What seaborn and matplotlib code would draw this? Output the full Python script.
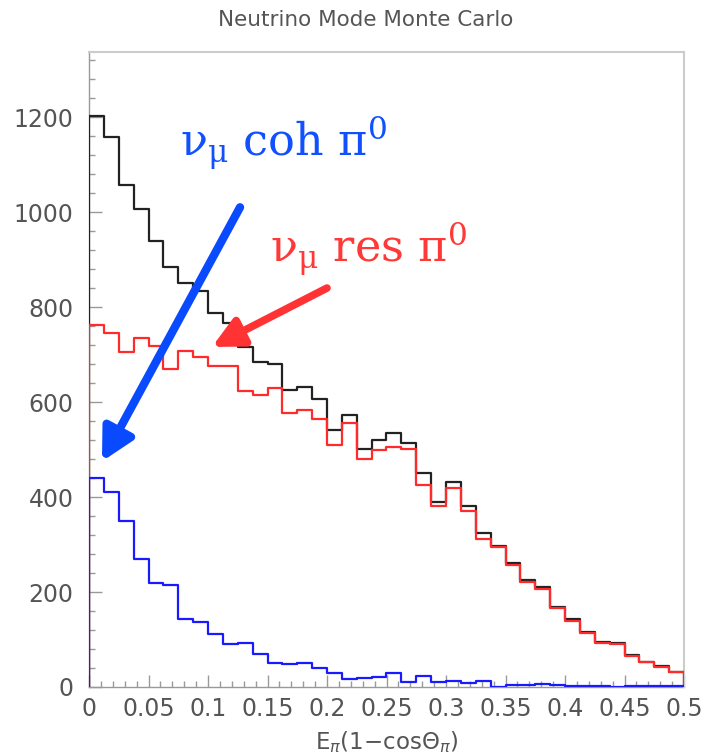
import numpy as np
import pandas as pd
import matplotlib
matplotlib.use("Agg")
import matplotlib.pyplot as plt
from matplotlib.ticker import MultipleLocator
import seaborn as sns

# ---- data (40 bins, width 0.0125, 0 .. 0.5) ----
bin_width = 0.0125
x_min, x_max = 0.0, 0.5

total_counts = [1203, 1159, 1057, 1006, 940, 885, 851, 834, 788, 767,
                715, 685, 681, 625, 632, 606, 541, 573, 502, 521,
                534, 513, 450, 390, 432, 381, 325, 297, 262, 225,
                210, 169, 143, 116, 95, 92, 67, 53, 44, 32]
res_counts = [762, 746, 706, 735, 719, 669, 707, 695, 676, 676,
              623, 615, 630, 576, 583, 564, 509, 555, 481, 500,
              506, 502, 425, 381, 420, 371, 311, 295, 257, 222,
              206, 166, 140, 114, 92, 90, 65, 52, 43, 31]
coh_counts = [441, 411, 350, 269, 220, 215, 143, 137, 111, 90,
              92, 70, 50, 48, 50, 41, 30, 16, 20, 21,
              29, 11, 23, 10, 13, 9, 12, 1, 4, 4,
              7, 5, 2, 3, 3, 1, 2, 2, 2, 3]

x_ticks = [0, 0.05, 0.1, 0.15, 0.2, 0.25, 0.3, 0.35, 0.4, 0.45, 0.5]
x_tick_labels = ["0", "0.05", "0.1", "0.15", "0.2", "0.25", "0.3", "0.35", "0.4", "0.45", "0.5"]
y_ticks = [0, 200, 400, 600, 800, 1000, 1200]

sns.set_style("ticks")
plt.rcParams["font.family"] = ["DejaVu Sans"]
plt.rcParams["mathtext.fontset"] = "dejavusans"

fig = plt.figure(figsize=(7.03, 7.56), dpi=100)
ax = fig.add_axes([89 / 703, 1 - 687 / 756, (684 - 89) / 703, (687 - 52) / 756])

# bin edges padded by one empty bin on each side so the steps drop to zero at the ends
n = len(total_counts)
edges = x_min + bin_width * np.arange(-1, n + 2)
centers = (edges[:-1] + edges[1:]) / 2
edge_list = [float(e) for e in edges]


def frame(counts, name):
    return pd.DataFrame({"x": centers, "w": [0] + list(counts) + [0], "series": name})


df = pd.concat([frame(total_counts, "total"),
                frame(res_counts, "res"),
                frame(coh_counts, "coh")], ignore_index=True)

palette = {"total": "#222222", "res": "#ff2a2a", "coh": "#1a1aff"}
for name in ["total", "res", "coh"]:
    sub = df[df["series"] == name]
    sns.histplot(data=sub, x="x", weights="w", bins=edge_list, element="step",
                 fill=False, color=palette[name], linewidth=1.6, ax=ax, zorder=3)

ax.set_xlim(x_min, x_max)
ax.set_ylim(0, 1337)
ax.set_ylabel("")
ax.set_xticks(x_ticks)
ax.set_xticklabels(x_tick_labels)
ax.set_yticks(y_ticks)
ax.xaxis.set_minor_locator(MultipleLocator(0.01))
ax.yaxis.set_minor_locator(MultipleLocator(40))
ax.tick_params(axis="both", which="major", direction="in", length=9, width=1,
               color="#999999", labelsize=17, labelcolor="#555555")
ax.tick_params(axis="y", which="major", pad=11)
ax.tick_params(axis="x", which="major", pad=7)
ax.tick_params(axis="both", which="minor", direction="in", length=4.5, width=1,
               color="#999999")
ax.tick_params(bottom=True, left=True, top=False, right=False, which="both")
for s in ["bottom", "left"]:
    ax.spines[s].set_color("#999999")
    ax.spines[s].set_linewidth(1.0)
    ax.spines[s].set_zorder(1)
for s in ["top", "right"]:
    ax.spines[s].set_color("#cccccc")
    ax.spines[s].set_linewidth(1.5)

ax.set_xlabel(r"E$_{\pi}$(1$-$cos$\Theta_{\pi}$)", fontsize=16.5, color="#555555", labelpad=6)
fig.text(0.52, 1 - 20 / 756, "Neutrino Mode Monte Carlo", ha="center", va="center",
         fontsize=15.5, color="#555555")

# annotations
serif = ["DejaVu Serif"]
blue_txt = "#1050ff"
red_txt = "#ff3838"
ax.text(0.0765, 1116, r"ν$_{\mathrm{\mu}}$ coh π$^{\mathrm{0}}$", color=blue_txt, fontsize=32,
        family=serif, ha="left", va="baseline", math_fontfamily="dejavuserif")
ax.text(0.152, 893, r"ν$_{\mathrm{\mu}}$ res π$^{\mathrm{0}}$", color=red_txt, fontsize=32,
        family=serif, ha="left", va="baseline", math_fontfamily="dejavuserif")

ax.annotate("", xy=(0.0109, 475), xytext=(0.1269, 1010),
            arrowprops=dict(arrowstyle="-|>,head_width=0.5,head_length=0.95",
                            lw=6, color="#0a4aff", shrinkA=0, shrinkB=0,
                            mutation_scale=20))
ax.annotate("", xy=(0.1034, 716), xytext=(0.2, 840),
            arrowprops=dict(arrowstyle="-|>,head_width=0.45,head_length=0.9",
                            lw=5.5, color="#ff3333", shrinkA=0, shrinkB=0,
                            mutation_scale=20))

fig.savefig("out.png", dpi=100)
